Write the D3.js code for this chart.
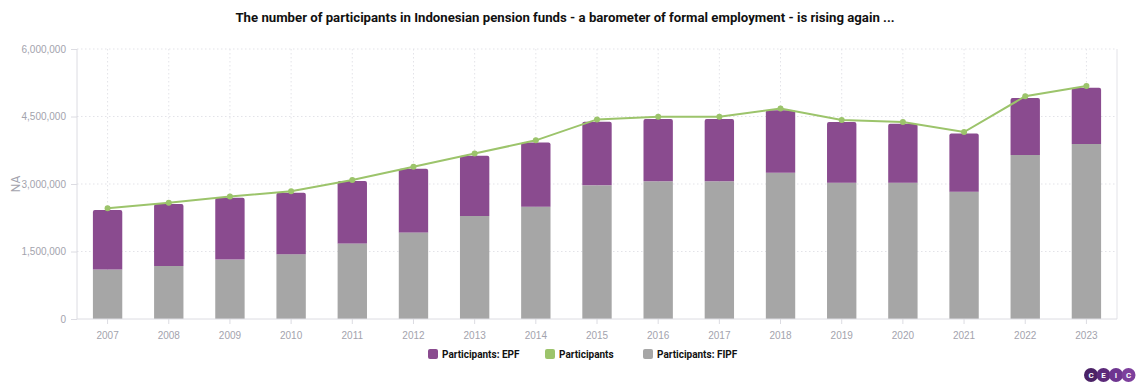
<!DOCTYPE html>
<html>
<head>
<meta charset="utf-8">
<script src="https://cdn.jsdelivr.net/npm/d3@7"></script>
<style>
  body { margin: 0; background: #fff; }
  svg { display: block; font-family: Roboto, "Noto Sans", sans-serif; }
  .grid line { stroke: #e3e3e8; stroke-dasharray: 1.5 2.5; }
  .axis text { fill: #a3a3ad; font-size: 10px; }
  .axis line, .axis path { stroke: #dcdce2; }
</style>
</head>
<body>
<svg id="chart" width="1140" height="389"></svg>
<script>
const years = ["2007", "2008", "2009", "2010", "2011", "2012", "2013", "2014",
  "2015", "2016", "2017", "2018", "2019", "2020", "2021", "2022", "2023"];
// FIPF participants (grey, bottom of stack)
const fipf = [1100000, 1180000, 1320000, 1440000, 1680000, 1925000, 2290000, 2495000,
  2970000, 3060000, 3060000, 3250000, 3030000, 3030000, 2830000, 3645000, 3890000];
// EPF participants (purple, top of stack)
const epf = [1320000, 1375000, 1375000, 1365000, 1385000, 1415000, 1340000, 1430000,
  1415000, 1385000, 1385000, 1390000, 1350000, 1310000, 1290000, 1265000, 1250000];
// total participants (line)
const participants = [2460000, 2585000, 2720000, 2840000, 3090000, 3385000, 3680000, 3970000,
  4435000, 4495000, 4495000, 4680000, 4420000, 4380000, 4155000, 4950000, 5180000];
const yTicks = [0, 1500000, 3000000, 4500000, 6000000];

const purple = "#8a4b8f", grey = "#a6a6a6", green = "#9cc46b";

const svg = d3.select("#chart");
const margin = { left: 77, right: 1117, top: 49, bottom: 319 };

const x = d3.scaleBand().domain(years).range([margin.left, margin.right]).paddingInner(0.52).paddingOuter(0.26);
const xc = (d) => x(d) + x.bandwidth() / 2;
const y = d3.scaleLinear().domain([0, 6000000]).range([margin.bottom, margin.top]);

// grid
const grid = svg.append("g").attr("class", "grid");
grid.selectAll(".h").data(yTicks.slice(1)).join("line")
  .attr("x1", margin.left).attr("x2", margin.right)
  .attr("y1", (d) => y(d)).attr("y2", (d) => y(d));
grid.selectAll(".v").data(years).join("line")
  .attr("x1", xc).attr("x2", xc)
  .attr("y1", margin.top).attr("y2", margin.bottom);

// right border
svg.append("line").attr("x1", margin.right).attr("x2", margin.right)
  .attr("y1", margin.top).attr("y2", margin.bottom).attr("stroke", "#e3e3e8");

// stacked bars
const bars = svg.append("g");
years.forEach((yr, i) => {
  bars.append("rect")
    .attr("x", x(yr)).attr("width", x.bandwidth())
    .attr("y", y(fipf[i])).attr("height", y(0) - y(fipf[i]))
    .attr("fill", grey);
  bars.append("path")
    .attr("d", () => {
      const x0 = x(yr), w = x.bandwidth(), top = y(fipf[i] + epf[i]), bot = y(fipf[i]), r = 2;
      return `M${x0},${bot}V${top + r}Q${x0},${top} ${x0 + r},${top}H${x0 + w - r}Q${x0 + w},${top} ${x0 + w},${top + r}V${bot}Z`;
    })
    .attr("fill", purple);
});

// axes
const yAxis = svg.append("g").attr("class", "axis")
  .attr("transform", `translate(${margin.left},0)`)
  .call(d3.axisLeft(y).tickValues(yTicks).tickSize(6).tickPadding(5).tickFormat(d3.format(",")));
yAxis.select(".domain").attr("d", `M0,${margin.top}V${margin.bottom}`);

const xAxis = svg.append("g").attr("class", "axis")
  .attr("transform", `translate(0,${margin.bottom})`)
  .call(d3.axisBottom(x).tickSize(5).tickPadding(8));
xAxis.select(".domain").attr("d", `M${margin.left},0H${margin.right}`);

// line
const line = d3.line().x((d, i) => xc(years[i])).y((d) => y(d));
svg.append("path").datum(participants)
  .attr("d", line).attr("fill", "none").attr("stroke", green).attr("stroke-width", 2);
svg.append("g").selectAll("circle").data(participants).join("circle")
  .attr("cx", (d, i) => xc(years[i])).attr("cy", (d) => y(d)).attr("r", 3).attr("fill", green);

// axis title
svg.append("text").attr("transform", `translate(20,${(margin.top + margin.bottom) / 2}) rotate(-90)`)
  .attr("text-anchor", "middle").attr("fill", "#a3a3ad").attr("font-size", 12).text("NA");

// title
svg.append("text").attr("x", 565).attr("y", 22).attr("text-anchor", "middle")
  .attr("font-size", 13.2).attr("font-weight", "bold").attr("fill", "#111")
  .text("The number of participants in Indonesian pension funds - a barometer of formal employment - is rising again ...");

// legend
const legendItems = [
  { label: "Participants: EPF", color: purple, x: 428 },
  { label: "Participants", color: green, x: 545 },
  { label: "Participants: FIPF", color: grey, x: 643 },
];
const legend = svg.append("g");
legendItems.forEach((d) => {
  legend.append("rect").attr("x", d.x).attr("y", 349).attr("width", 10).attr("height", 10)
    .attr("rx", 2).attr("fill", d.color);
  legend.append("text").attr("x", d.x + 14).attr("y", 358).attr("font-size", 10)
    .attr("font-weight", "bold").attr("fill", "#111").text(d.label);
});

// logo
const logo = svg.append("g").attr("transform", "translate(1091,375)");
const logoColors = ["#4b2266", "#5c2a7a", "#6e3590", "#7d3f9c"];
["C", "E", "I", "C"].forEach((ch, i) => {
  logo.append("circle").attr("cx", i * 12.5).attr("cy", 0).attr("r", 7).attr("fill", logoColors[i]);
  logo.append("text").attr("x", i * 12.5).attr("y", 3).attr("text-anchor", "middle")
    .attr("font-size", 8).attr("font-weight", "bold").attr("fill", "#fff").text(ch);
});
</script>
</body>
</html>
